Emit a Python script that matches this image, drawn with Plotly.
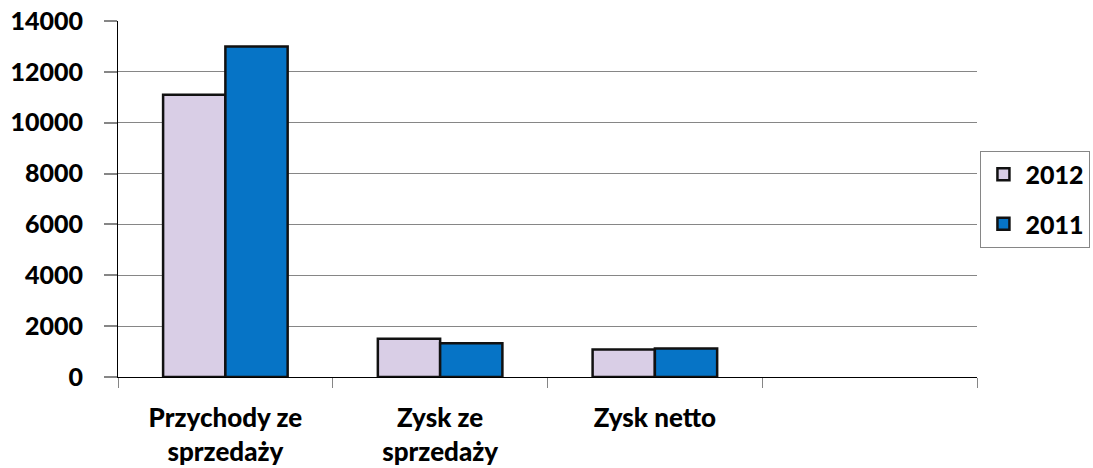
import plotly.graph_objects as go

categories = ["Przychody ze<br>sprzedaży", "Zysk ze<br>sprzedaży", "Zysk netto", " "]
series_names = ["2012", "2011"]
values_2012 = [11100, 1500, 1080, None]
values_2011 = [13000, 1330, 1120, None]
y_ticks = [0, 2000, 4000, 6000, 8000, 10000, 12000, 14000]
y_tick_labels = ["0", "2000", "4000", "6000", "8000", "10000", "12000", "14000"]
grid_ticks = [2000, 4000, 6000, 8000, 10000, 12000]

colors = ["#D9CEE6", "#0674C6"]
FONT = "Lato"
W = 900

fig = go.Figure()
for name, vals, col in zip(series_names, [values_2012, values_2011], colors):
    fig.add_trace(go.Bar(
        x=categories, y=vals, name=name,
        marker=dict(color=col, line=dict(color="#111111", width=2.5)),
    ))

fig.add_trace(go.Scatter(x=[categories[0]], y=[None], yaxis="y2",
                         showlegend=False, hoverinfo="skip"))

fig.update_layout(
    width=1093, height=468,
    margin=dict(l=118, r=116, t=21, b=91, autoexpand=False),
    paper_bgcolor="white", plot_bgcolor="white",
    barmode="group", bargap=0.42, bargroupgap=0,
    font=dict(family=FONT, color="black"),
    showlegend=True,
    legend=dict(
        x=1.004, xanchor="left", y=0.50, yanchor="middle",
        bordercolor="#868686", borderwidth=1,
        font=dict(size=25, family=FONT, weight=W),
        tracegroupgap=14, traceorder="grouped",
        itemwidth=34,
    ),
    xaxis=dict(
        type="category", categoryorder="array", categoryarray=categories,
        range=[-0.5, 3.5], automargin=False,
        showline=True, linecolor="black", linewidth=1,
        ticks="outside", tickson="boundaries", ticklen=10, tickcolor="#868686",
        tickfont=dict(size=26, family=FONT, weight=W),
        ticklabelstandoff=18,
        showgrid=False, zeroline=False,
    ),
    yaxis=dict(
        range=[0, 14000], tickvals=y_ticks, ticktext=y_tick_labels,
        automargin=False, ticklabeloverflow="allow",
        showline=True, linecolor="black", linewidth=1,
        ticks="outside", ticklen=13, tickcolor="#868686", tickwidth=1.5,
        tickfont=dict(size=25, family=FONT, weight=W),
        ticklabelstandoff=16,
        showgrid=False, zeroline=False,
    ),
    yaxis2=dict(
        overlaying="y", range=[0, 14000], tickvals=grid_ticks,
        showgrid=True, gridcolor="#868686", gridwidth=1, automargin=False,
        showticklabels=False, zeroline=False, showline=False,
    ),
)
fig.data[0].update(legendgroup="a")
fig.data[1].update(legendgroup="b")

fig.write_html("out.html", config={"displayModeBar": False},
               post_script="document.body.style.margin='0px';")
